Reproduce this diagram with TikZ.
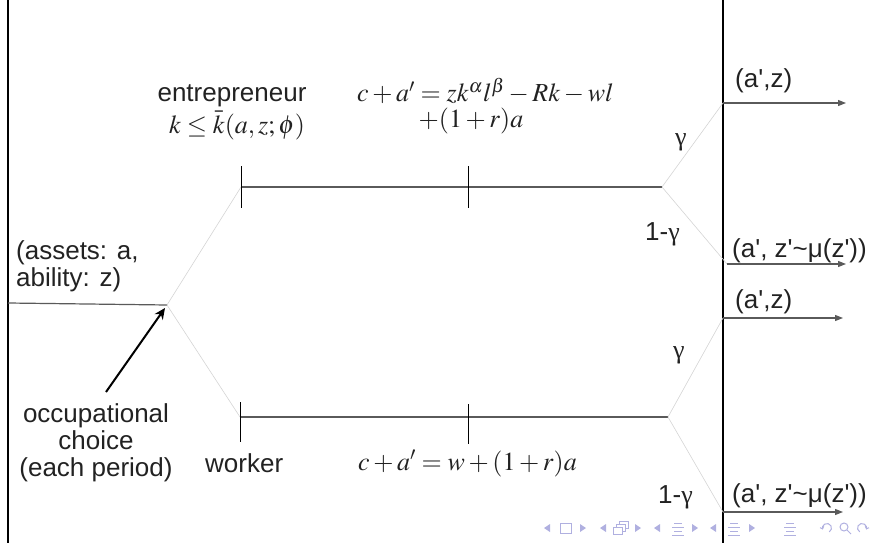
\documentclass[tikz,border=0pt]{standalone}
\usepackage{mathptmx}
\usepackage{fontspec}
\setmainfont{Liberation Sans}
\newfontfamily\grkfont{Liberation Serif}
\usetikzlibrary{arrows.meta, positioning}
\definecolor{branchgray}{RGB}{212,212,212}
\definecolor{stemgray}{RGB}{90,90,90}
\definecolor{navblue}{RGB}{176,176,224}
\definecolor{inkgray}{RGB}{34,34,34}
\newcommand{\qt}{\textquotesingle}
\newcommand{\gam}{{\grkfont γ}}
\tikzset{
  lbl/.style={font=\fontsize{26}{27}\selectfont, text=inkgray, inner sep=0pt},
  eq/.style={font=\fontsize{26}{27}\selectfont, text=inkgray, inner sep=0pt},
  wall/.style={draw=black, line width=1.1pt},
  branch/.style={draw=branchgray, line width=0.6pt},
  stem/.style={draw=stemgray, line width=1.2pt},
  tick/.style={draw=black, line width=0.9pt},
  outarrow/.style={draw=stemgray, line width=1.2pt, -{Triangle[length=8pt,width=6pt]}},
  choicearrow/.style={draw=black, line width=2pt, -{Stealth[length=11pt,width=10pt]}},
  navsym/.style={draw=navblue, line width=1pt}
}

\begin{document}
\begin{tikzpicture}[x=1pt, y=-1pt]
  \useasboundingbox (0,0) rectangle (873,543);

  \coordinate (ltop) at (8,0);
  \coordinate (lbot) at (8,543);
  \coordinate (rtop) at (723,0);
  \coordinate (rbot) at (723,543);
  \draw[wall] (ltop) -- (lbot);
  \draw[wall] (rtop) -- (rbot);

  \coordinate (start) at (8,303);
  \coordinate (choice) at (167,305);
  \coordinate (eL) at (241,187);
  \coordinate (eM) at (468,187);
  \coordinate (eR) at (662,187);
  \coordinate (wL) at (240,417);
  \coordinate (wM) at (468,417);
  \coordinate (wR) at (668,417);
  \coordinate (eUp) at (723,103);
  \coordinate (eDn) at (727,264);
  \coordinate (wUp) at (723,318);
  \coordinate (wDn) at (723,512);
  \coordinate (eUpEnd) at (846,103);
  \coordinate (eDnEnd) at (846,264);
  \coordinate (wUpEnd) at (843,318);
  \coordinate (wDnEnd) at (843,512);

  \draw[stem] (start) -- (choice);
  \draw[branch] (choice) -- (eL);
  \draw[branch] (choice) -- (wL);
  \draw[stem] (eL) -- (eR);
  \draw[stem] (wL) -- (wR);
  \draw[tick] (eL) ++(0,-21) -- ++(0,42);
  \draw[tick] (eM) ++(0,-21) -- ++(0,42);
  \draw[tick] (wL) ++(0,-15) -- ++(0,40);
  \draw[tick] (wM) ++(0,-13) -- ++(0,40);

  \draw[branch] (eR) -- (eUp);
  \draw[branch] (eR) -- (eDn);
  \draw[branch] (wR) -- (wUp);
  \draw[branch] (wR) -- (wDn);
  \draw[outarrow] (eUp) -- (eUpEnd);
  \draw[outarrow] (eDn) -- (eDnEnd);
  \draw[outarrow] (wUp) -- (wUpEnd);
  \draw[outarrow] (wDn) -- (wDnEnd);

  \node[lbl, anchor=base] (entre) at (232,101) {entrepreneur};
  \node[eq, anchor=base] (kcap) at (237,133) {$k\le\bar{k}(a,z;\phi)$};
  \node[eq, anchor=base west] (ebud) at (357,102) {$c+a'=zk^{\alpha}l^{\beta}-Rk-wl$};
  \node[eq, anchor=base] (ebud2) at (471,128) {$+(1+r)a$};
  \node[lbl, anchor=base west] (work) at (205,472) {worker};
  \node[eq, anchor=base west] (wbud) at (358,470) {$c+a'=w+(1+r)a$};

  \node[lbl, anchor=north west, align=left] (state) at (16,240) {(assets: a,\\ability: z)};
  \node[lbl, anchor=north, align=center] (occ) at (96,403) {occupational\\choice\\(each period)};
  \coordinate (occTail) at (106,392);
  \coordinate (occTip) at (165,308);
  \draw[choicearrow] (occTail) -- (occTip);

  \node[lbl, anchor=base west] (eG) at (675,145) {\gam};
  \node[lbl, anchor=base west] (eNG) at (645,240) {1-\gam};
  \node[lbl, anchor=base west] (wG) at (673,358) {\gam};
  \node[lbl, anchor=base west] (wNG) at (658,503) {1-\gam};
  \node[lbl, anchor=base west] (eUpLbl) at (735,88) {(a\qt,z)};
  \node[lbl, anchor=base west] (eDnLbl) at (732,257) {(a\qt, z\qt\textasciitilde μ(z\qt))};
  \node[lbl, anchor=base west] (wUpLbl) at (735,308) {(a\qt,z)};
  \node[lbl, anchor=base west] (wDnLbl) at (732,502) {(a\qt, z\qt\textasciitilde μ(z\qt))};

  \foreach \x in {547,603,657,713}
    \fill[navblue] (\x+3,524) -- (\x-3,528) -- (\x+3,532) -- cycle;
  \foreach \x in {583,638,695,752}
    \fill[navblue] (\x-3,524) -- (\x+3,528) -- (\x-3,532) -- cycle;
  \draw[navsym] (560,523) rectangle (571,533);
  \draw[navsym, fill=white] (619,521) rectangle (628,528);
  \draw[navsym, fill=white] (616,524) rectangle (625,531);
  \draw[navsym, fill=white] (613,527) rectangle (622,534);
  \foreach \x in {678,734,790} {
    \draw[navsym] (\x-4,523) -- (\x+4,523);
    \draw[navsym] (\x-6,527) -- (\x+6,527);
    \draw[navsym] (\x-4,531) -- (\x+4,531);
    \draw[navsym] (\x-6,535) -- (\x+6,535);
  }
  \draw[navsym, -{Straight Barb[length=2pt]}] (827,528) ++(60:4.5) arc (60:-200:4.5);
  \draw[navsym] (844,527) circle (4);
  \draw[navsym] (847,530) -- (851,534);
  \draw[navsym, -{Straight Barb[length=2pt]}] (862,528) ++(120:4.5) arc (120:380:4.5);
\end{tikzpicture}
\end{document}
